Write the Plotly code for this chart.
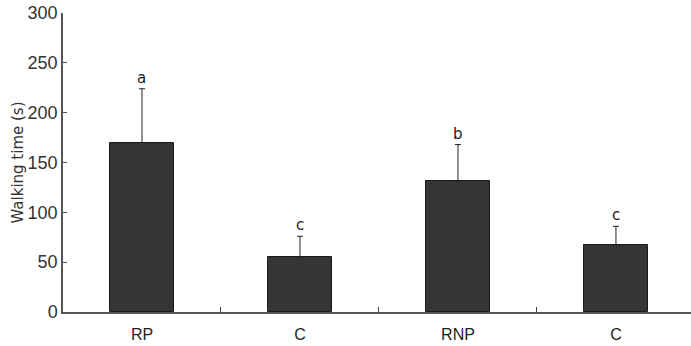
import plotly.graph_objects as go

categories = ["RP", "C", "RNP", "C "]
tick_labels = ["RP", "C", "RNP", "C"]
means = [170, 55, 131, 67]
errors = [54, 21, 37, 19]
letters = ["a", "c", "b", "c"]
y_ticks = [0, 50, 100, 150, 200, 250, 300]

fig = go.Figure()
fig.add_trace(go.Bar(
    x=categories, y=means,
    width=0.405,
    marker=dict(color="#353535", line=dict(color="#1a1a1a", width=1)),
    error_y=dict(type="data", array=errors, symmetric=False, arrayminus=[0]*4,
                 color="#222222", thickness=1, width=3),
))

for c, m, e, l in zip(categories, means, errors, letters):
    fig.add_annotation(x=c, y=m + e, text=l, showarrow=False, yanchor="bottom",
                       yshift=0, font=dict(family="DejaVu Sans", size=15, color="#222222"))

font_family = "Liberation Sans Narrow, Liberation Sans, DejaVu Sans"
fig.update_layout(
    width=691, height=346,
    margin=dict(l=63, r=0, t=13, b=34),
    plot_bgcolor="white", paper_bgcolor="white",
    showlegend=False,
    font=dict(family=font_family, color="#333333"),
    bargap=0,
)
fig.update_xaxes(
    type="category", categoryorder="array", categoryarray=categories,
    tickmode="array", tickvals=categories, ticktext=tick_labels,
    range=[-0.5, 3.475], automargin=False, ticklabelstandoff=7,
    showline=True, linecolor="#555555", linewidth=1.5,
    ticks="inside", tickson="boundaries", ticklen=5, tickcolor="#444444",
    tickfont=dict(size=16, family=font_family, color="#222222"),
    showgrid=False, zeroline=False,
)
fig.update_yaxes(
    range=[0, 300], tickvals=y_ticks, automargin=False, ticklabeloverflow="allow",
    showline=True, linecolor="#555555", linewidth=1.5,
    ticks="inside", ticklen=4, tickcolor="#555555",
    tickfont=dict(size=18, family=font_family, color="#333333"),
    title=dict(text="Walking time (s)", font=dict(size=15, family="DejaVu Sans", color="#333333"), standoff=0),
    showgrid=False, zeroline=False,
)
fig.write_html("out.html", config={"displayModeBar": False},
               post_script="document.body.style.margin='0';document.body.style.overflow='hidden';")
